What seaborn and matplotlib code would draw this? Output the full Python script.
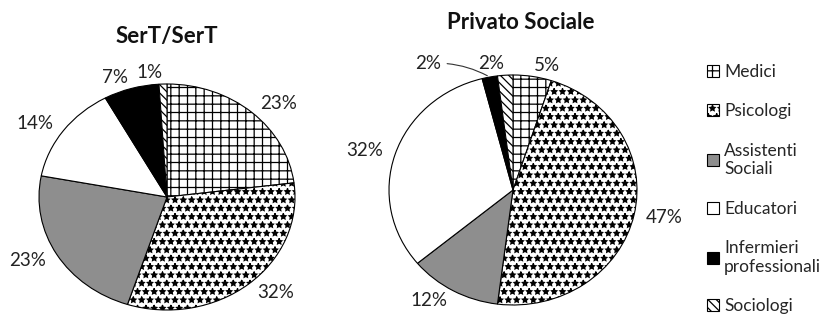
import matplotlib
matplotlib.use("Agg")
import matplotlib.pyplot as plt
import seaborn as sns
import numpy as np

# dati
categorie = ["Medici", "Psicologi", "Assistenti\nSociali", "Educatori",
             "Infermieri\nprofessionali", "Sociologi"]
sert = [23, 32, 23, 14, 7, 1]
privato = [5, 47, 12, 32, 2, 2]
titoli = ["SerT/SerT", "Privato Sociale"]

sns.set_style("white")
plt.rcParams["font.family"] = ["Lato", "DejaVu Sans"]
plt.rcParams["hatch.linewidth"] = 0.9

colori = ["white", "white", "#8e8e8e", "white", "black", "white"]
tratteggi = ["++", "**", "", "", "", "\\\\\\\\"]
FS = 13.5

W, H = 831, 316
fig = plt.figure(figsize=(W / 100, H / 100), dpi=100)


def asse_pie(cx, cy, rx, ry, span=1.6):
    # asse in pixel: il cerchio unitario diventa un'ellisse rx x ry
    w, h = 2 * span * rx, 2 * span * ry
    ax = fig.add_axes([(cx - w / 2) / W, (H - cy - h / 2) / H, w / W, h / H])
    return ax


def disegna(ax, valori, titolo, ty, tx=0):
    wedges, testi = ax.pie(valori, labels=[f"{v}%" for v in valori],
                           colors=colori, startangle=90, counterclock=False,
                           labeldistance=1.1,
                           wedgeprops=dict(edgecolor="black", linewidth=0.8),
                           textprops=dict(fontsize=FS, color="#222222"))
    for w, h in zip(wedges, tratteggi):
        w.set_hatch(h)
    ax.set_aspect("auto")
    ax.set_xlim(-1.6, 1.6)
    ax.set_ylim(-1.6, 1.6)
    ax.axis("off")
    ax.text(tx, ty, titolo, ha="center", va="center", fontsize=16,
            fontweight="bold", color="#111111")
    return wedges, testi


ax1 = asse_pie(167, 197, 128, 113)
w1, t1 = disegna(ax1, sert, titoli[0], 1.42)

ax2 = asse_pie(513, 190, 124, 115)
w2, t2 = disegna(ax2, privato, titoli[1], 1.46, 0.06)

# etichetta infermieri spostata con linea guida
w = w2[4]
ang = np.deg2rad((w.theta1 + w.theta2) / 2)
t2[4].set_visible(False)
ax2.annotate(f"{privato[4]}%", xy=(np.cos(ang), np.sin(ang)),
             xytext=(-0.58, 1.10), ha="right", va="center", fontsize=FS,
             color="#222222",
             arrowprops=dict(arrowstyle="-", color="#333333", lw=0.8,
                             connectionstyle="arc3,rad=-0.15"))

fig.legend(w1, categorie, loc="upper left", bbox_to_anchor=(0.842, 0.82),
           frameon=False, fontsize=12.5, handlelength=0.7, handleheight=0.7,
           handletextpad=0.3, labelspacing=1.35, borderaxespad=0)

plt.savefig("out.png", dpi=100)
plt.close()
